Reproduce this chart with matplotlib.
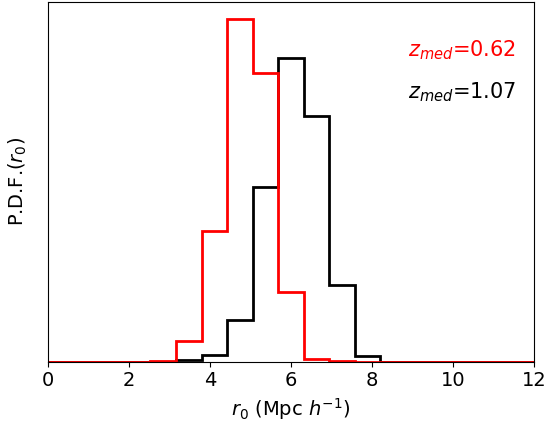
import matplotlib
matplotlib.use("Agg")
import matplotlib.pyplot as plt
import numpy as np

# 19 bins over 0-12 Mpc/h
bin_edges = np.linspace(0, 12, 20)

# per-bin heights (arbitrary units, y ticks are hidden)
pdf_low_z = [0, 0, 0, 0, 0.5, 21, 131, 344, 290, 70, 2.5, 1, 0, 0, 0, 0, 0, 0, 0]
pdf_high_z = [0, 0, 0, 0, 0, 1.2, 7, 42, 175, 305, 247, 77, 6, 0, 0, 0, 0, 0, 0]

labels = [r"$z_{med}$=0.62", r"$z_{med}$=1.07"]
colors = ["red", "black"]

fig, ax = plt.subplots(figsize=(5.47, 4.28), dpi=100)
fig.subplots_adjust(left=0.088, right=0.976, top=0.995, bottom=0.155)

centers = 0.5 * (bin_edges[:-1] + bin_edges[1:])
ax.hist(centers, bins=bin_edges, weights=pdf_high_z, histtype="step",
        color="black", linewidth=2)
ax.hist(centers, bins=bin_edges, weights=pdf_low_z, histtype="step",
        color="red", linewidth=2)

ax.set_xlim(0, 12)
ax.set_ylim(0, max(max(pdf_low_z), max(pdf_high_z)) * 1.05)
ax.set_yticks([])
ax.tick_params(axis="x", labelsize=14)
ax.set_xlabel(r"$r_0$ (Mpc $h^{-1}$)", fontsize=14)
ax.set_ylabel(r"P.D.F.($r_0$)", fontsize=14, labelpad=14)

ax.text(0.963, 0.867, labels[0], color=colors[0], fontsize=15,
        ha="right", va="center", transform=ax.transAxes)
ax.text(0.963, 0.75, labels[1], color=colors[1], fontsize=15,
        ha="right", va="center", transform=ax.transAxes)

fig.savefig("out.png", dpi=100)
